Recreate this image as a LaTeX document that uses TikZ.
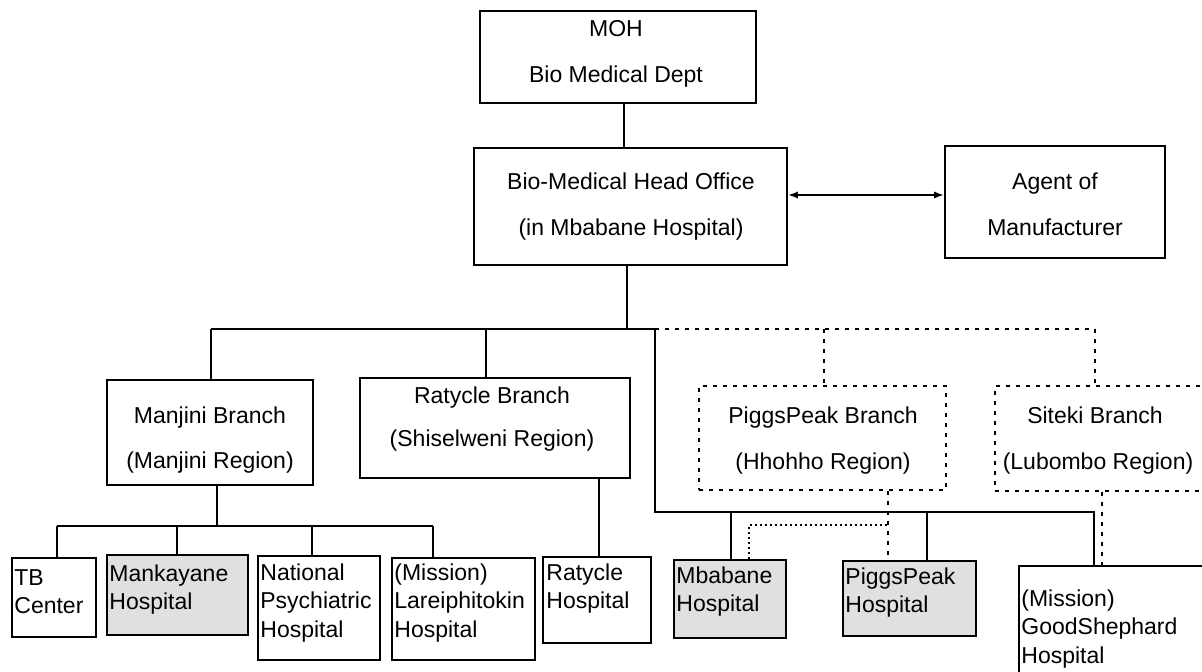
\documentclass[tikz,border=0pt]{standalone}
\usepackage{fontspec}
\setmainfont{Liberation Sans}
\usetikzlibrary{fit,arrows.meta}
\newcommand\Llines[1]{\vtop{\halign{##\hfil\cr#1\crcr}}}
\tikzset{
  box/.style={draw, line width=0.9pt, inner sep=0pt},
  dbox/.style={box, dash pattern=on 2pt off 3pt},
  shd/.style={fill=black!12},
  conn/.style={line width=0.9pt},
  dconn/.style={line width=0.9pt, dash pattern=on 2pt off 3pt},
  dotconn/.style={line width=0.8pt, dash pattern=on 0.9pt off 1.6pt},
  lbl/.style={font=\fontsize{11.5pt}{14.25pt}\selectfont, inner sep=0pt, anchor=base},
  llbl/.style={lbl, anchor=base west},
}
\begin{document}
\begin{tikzpicture}[x=0.5pt, y=-0.5pt]
\useasboundingbox (0,0) rectangle (1202,672);
\clip (0,0) rectangle (1202,672);
\fill[white] (0,0) rectangle (1202,672);

% boxes
\node[box, fit={(480,11) (756,103)}] (moh) {};
\node[box, fit={(474,148) (787,265)}] (ho) {};
\node[box, fit={(945,146) (1165,258)}] (agent) {};
\node[box, fit={(107,380) (313,485)}] (manjini) {};
\node[box, fit={(360,378) (630,478)}] (ratb) {};
\node[dbox, fit={(699,386) (946,490)}] (pigb) {};
\node[dbox, fit={(995,386) (1215,491)}] (sitb) {};
\node[box, fit={(12,558) (96,637)}] (tb) {};
\node[box, shd, fit={(107,555) (248,635)}] (mank) {};
\node[box, fit={(258,556) (380,660)}] (nat) {};
\node[box, fit={(392,558) (535,660)}] (lar) {};
\node[box, fit={(543,557) (651,643)}] (rath) {};
\node[box, shd, fit={(674,560) (786,638)}] (mbab) {};
\node[box, shd, fit={(843,561) (976,636)}] (pigh) {};
\node[box, fit={(1019,566) (1215,690)}] (good) {};

% texts
\node[lbl] (tmoh1) at (616,37) {MOH};
\node[lbl] (tmoh2) at (616,83) {Bio Medical Dept};
\node[lbl] (tho1) at (631,190) {Bio-Medical Head Office};
\node[lbl] (tho2) at (631,236) {(in Mbabane Hospital)};
\node[lbl] (tag1) at (1055,190) {Agent of};
\node[lbl] (tag2) at (1055,236) {Manufacturer};
\node[lbl] (tmj1) at (210,424) {Manjini Branch};
\node[lbl] (tmj2) at (210,469) {(Manjini Region)};
\node[lbl] (trb1) at (492,404) {Ratycle Branch};
\node[lbl] (trb2) at (492,447) {(Shiselweni Region)};
\node[lbl] (tpb1) at (823,424) {PiggsPeak Branch};
\node[lbl] (tpb2) at (823,470) {(Hhohho Region)};
\node[lbl] (tsb1) at (1095,424) {Siteki Branch};
\node[lbl] (tsb2) at (1098,470) {(Lubombo Region)};
\node[llbl] (ttb) at (14,585) {\Llines{TB\cr Center}};
\node[llbl] (tmank) at (109,581) {\Llines{Mankayane\cr Hospital}};
\node[llbl] (tnat) at (260,580) {\Llines{National\cr Psychiatric\cr Hospital}};
\node[llbl] (tlar) at (394,580) {\Llines{(Mission)\cr Lareiphitokin\cr Hospital}};
\node[llbl] (trath) at (546,580) {\Llines{Ratycle\cr Hospital}};
\node[llbl] (tmbab) at (676,583) {\Llines{Mbabane\cr Hospital}};
\node[llbl] (tpigh) at (845,584) {\Llines{PiggsPeak\cr Hospital}};
\node[llbl] (tgood) at (1021,606) {\Llines{(Mission)\cr GoodShephard\cr Hospital}};

% connector coordinates
\coordinate (mx) at (624,0);
\coordinate (bA) at (627,329);
\coordinate (bL) at (211,329);
\coordinate (bRat) at (486,329);
\coordinate (bH) at (655,329);
\coordinate (bPig) at (824,329);
\coordinate (bR) at (1095,329);
\coordinate (lH) at (655,512);
\coordinate (mbx) at (731,512);
\coordinate (pgx) at (927,512);
\coordinate (lR) at (1094,512);
\coordinate (dA) at (749,525);
\coordinate (dB) at (888,525);
\coordinate (sdx) at (1102,0);
\coordinate (ms) at (217,526);
\coordinate (s1) at (57,526);
\coordinate (s2) at (177,526);
\coordinate (s3) at (312,526);
\coordinate (s4) at (433,526);
\coordinate (rx) at (599,0);
\coordinate (ar) at (860,195);

% connectors
\draw[conn] (moh.south -| mx) -- (ho.north -| mx);
\draw[conn, {Latex[length=5pt,width=3.6pt]}-{Latex[length=5pt,width=3.6pt]}] (ar -| ho.east) -- (ar -| agent.west);
\draw[conn] (ho.south -| bA) -- (bA);
\draw[conn] (bL) -- (bH);
\draw[dconn] (bH) -- (bR);
\draw[conn] (bL) -- (manjini.north -| bL);
\draw[conn] (bRat) -- (ratb.north -| bRat);
\draw[dconn] (bPig) -- (pigb.north -| bPig);
\draw[dconn] (bR) -- (sitb.north -| bR);
\draw[conn] (bH) -- (lH) -- (lR) -- (good.north -| lR);
\draw[conn] (mbx) -- (mbab.north -| mbx);
\draw[conn] (pgx) -- (pigh.north -| pgx);
\draw[dotconn] (mbab.north -| dA) -- (dA) -- (dB);
\draw[dconn] (pigb.south -| dB) -- (pigh.north -| dB);
\draw[dconn] (sitb.south -| sdx) -- (good.north -| sdx);
\draw[conn] (manjini.south -| ms) -- (ms);
\draw[conn] (s1) -- (s4);
\draw[conn] (s1) -- (tb.north -| s1);
\draw[conn] (s2) -- (mank.north -| s2);
\draw[conn] (s3) -- (nat.north -| s3);
\draw[conn] (s4) -- (lar.north -| s4);
\draw[conn] (ratb.south -| rx) -- (rath.north -| rx);
\end{tikzpicture}
\end{document}
